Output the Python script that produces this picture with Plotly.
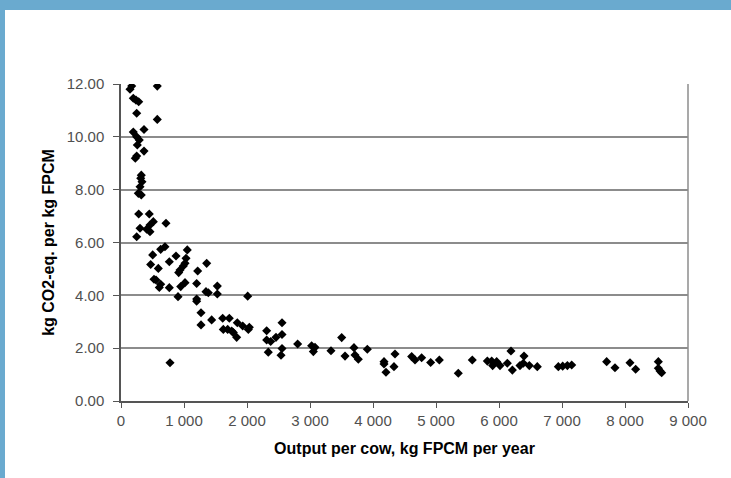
import plotly.graph_objects as go

# data
output_kg = [170, 143, 576, 195, 238, 281, 249, 576, 365, 195, 249, 290, 259, 365, 249, 227,
             322, 313, 333, 302, 275, 322, 281, 449, 513, 460, 714, 302, 408, 460, 249,
             503, 698, 630, 873, 1052, 471, 592, 767, 1032, 1016, 989, 937, 916, 524, 556,
             630, 608, 767, 948, 1016, 905, 1217, 1360, 1201, 1349, 1386, 1529, 1529, 1201,
             1201, 1270, 1270, 1439, 2011, 1614, 1719, 1624, 1693, 1757, 1783, 1836, 1846,
             1932, 2021, 2037, 2312, 2312, 2376, 2460, 2556, 2556, 2556, 2540, 2338, 2804,
             778, 3026, 3079, 3053, 3333, 3503, 3556, 3698, 3714, 3767, 3910, 4175, 4175,
             4206, 4333, 4349, 4614, 4667, 4772, 4915, 5053, 5354, 5576, 5815, 5884, 5899,
             5963, 6016, 6132, 6190, 6212, 6333, 6397, 6386, 6481, 6608, 6942, 7011, 7085,
             7154, 7709, 7841, 8079, 8169, 8529, 8529, 8556, 8582]
emission = [11.92, 11.80, 11.92, 11.46, 11.39, 11.33, 10.89, 10.66, 10.28, 10.18, 10.00, 9.88,
            9.69, 9.46, 9.27, 9.19, 8.55, 8.43, 8.30, 8.11, 7.86, 7.80, 7.08, 7.08, 6.79,
            6.66, 6.73, 6.54, 6.50, 6.41, 6.22, 5.53, 5.84, 5.74, 5.49, 5.72, 5.17, 5.02,
            5.27, 5.40, 5.21, 5.11, 4.96, 4.86, 4.61, 4.58, 4.42, 4.30, 4.29, 4.33, 4.48,
            3.95, 4.92, 5.21, 4.45, 4.14, 4.10, 4.35, 4.05, 3.86, 3.78, 3.34, 2.88, 3.07,
            3.97, 3.13, 3.13, 2.71, 2.71, 2.65, 2.59, 2.41, 2.96, 2.84, 2.71, 2.79, 2.66,
            2.31, 2.25, 2.41, 2.96, 2.52, 1.99, 1.73, 1.85, 2.16, 1.45, 2.09, 2.03, 1.87,
            1.90, 2.40, 1.70, 2.02, 1.74, 1.58, 1.96, 1.49, 1.40, 1.09, 1.30, 1.78, 1.68,
            1.55, 1.64, 1.46, 1.55, 1.05, 1.55, 1.51, 1.51, 1.34, 1.49, 1.34, 1.43, 1.89,
            1.17, 1.34, 1.70, 1.43, 1.34, 1.30, 1.30, 1.32, 1.34, 1.36, 1.49, 1.26, 1.45,
            1.20, 1.49, 1.24, 1.14, 1.07]

x_ticks = [0, 1000, 2000, 3000, 4000, 5000, 6000, 7000, 8000, 9000]
x_labels = ['0', '1 000', '2 000', '3 000', '4 000', '5 000', '6 000', '7 000', '8 000', '9 000']
y_ticks = [0, 2, 4, 6, 8, 10, 12]

BLUE = '#6aaacf'
FONT = 'Liberation Sans, Arial, sans-serif'

fig = go.Figure()
fig.add_trace(go.Scatter(x=output_kg, y=emission, mode='markers',
                         marker=dict(symbol='diamond', size=7, color='black'),
                         showlegend=False))

# plot area spans px 121..688 horizontally, 84..401 vertically
W, H = 731, 478
L, R, T, B = 121, 688, 84, 401
pw, ph = R - L, B - T

def px_x(p):
    return (p - L) / pw

def px_y(p):
    return (B - p) / ph

fig.update_layout(
    width=W, height=H,
    margin=dict(l=L, r=W - R, t=T, b=H - B),
    paper_bgcolor='white', plot_bgcolor='white',
    font=dict(family=FONT, size=14, color='#444444'),
    xaxis=dict(range=[0, 9000], tickvals=x_ticks, ticktext=x_labels,
               showgrid=False, zeroline=False, showline=True, linecolor='#555555', linewidth=1.5,
               ticks='outside', ticklen=5, tickcolor='#555555',
               tickfont=dict(size=15, color='#505050'),
               title=dict(text='<b>Output per cow, kg FPCM per year</b>',
                          font=dict(size=16, color='black'), standoff=15)),
    yaxis=dict(range=[0, 12], tickvals=y_ticks, tickformat='.2f',
               showgrid=True, gridcolor='#8c8c8c', gridwidth=1.5,
               zeroline=False, showline=True, linecolor='#555555', linewidth=1.5,
               ticks='outside', ticklen=6, tickcolor='#555555', ticklabelstandoff=6,
               tickfont=dict(size=15, color='#505050'),
               title=dict(text='<b>kg CO2-eq. per kg FPCM</b>',
                          font=dict(size=16, color='black'), standoff=8)),
    shapes=[
        # right border of plot area
        dict(type='line', xref='paper', yref='paper', x0=1, x1=1, y0=0, y1=1,
             line=dict(color='#8c8c8c', width=1.5)),
        # blue frame strips (top and left)
        dict(type='rect', xref='paper', yref='paper', x0=px_x(-5), x1=px_x(W + 5),
             y0=px_y(10), y1=px_y(-5), fillcolor=BLUE, line=dict(width=0), layer='above'),
        dict(type='rect', xref='paper', yref='paper', x0=px_x(-5), x1=px_x(5),
             y0=px_y(H + 5), y1=px_y(-5), fillcolor=BLUE, line=dict(width=0), layer='above'),
    ],
)

# drop the page margin so the figure sits flush in the window, no modebar
fig.write_html('out.html', config={'displayModeBar': False},
               post_script="document.body.style.margin='0';")
